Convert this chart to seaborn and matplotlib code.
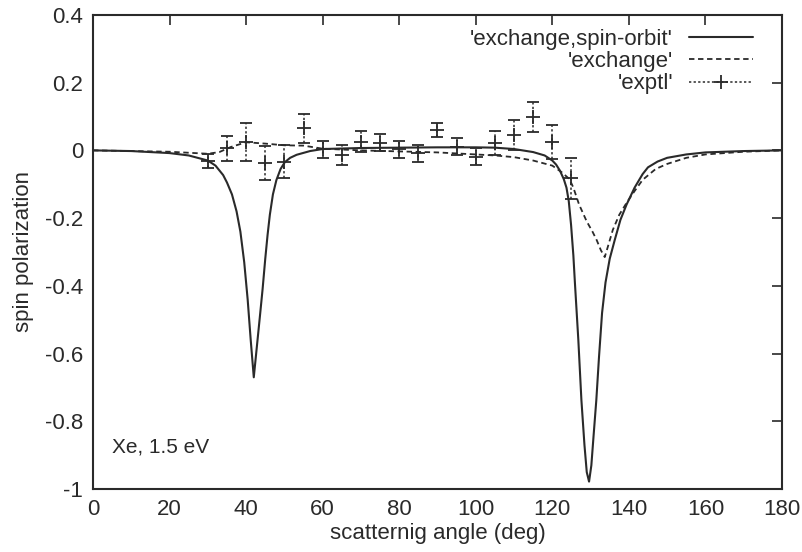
import matplotlib
matplotlib.use("Agg")
import matplotlib.pyplot as plt
from matplotlib.lines import Line2D
import pandas as pd
import seaborn as sns

""" Spin polarization of Xe at 1.5 eV vs scattering angle """

# curve: exchange + spin-orbit
so_angle = [0, 10, 20, 25, 30, 32, 34, 35, 36.3, 37.5, 38.5, 39.5, 40.4, 41.2,
            42.0, 42.8, 43.6, 44.3, 45.0, 45.6, 46.2, 47.0, 47.9, 49.0, 50.1,
            51.5, 53.2, 56.7, 60, 70, 80, 90, 100, 105, 110, 115, 118, 120,
            121, 122, 123, 123.7, 124.3, 124.9, 125.5, 125.9, 126.8, 127.6,
            128.4, 129.0, 129.6, 130.2, 130.8, 131.5, 132.2, 133.0, 133.9,
            135.0, 136.3, 137.8, 139.4, 141.5, 143.6, 145, 147.5, 150, 155,
            160, 170, 180]
so_pol = [0.0, -0.002, -0.008, -0.015, -0.03, -0.045, -0.073, -0.095, -0.13,
          -0.18, -0.24, -0.33, -0.44, -0.56, -0.67, -0.58, -0.49, -0.41,
          -0.32, -0.25, -0.19, -0.13, -0.088, -0.055, -0.035, -0.022, -0.013,
          -0.002, 0.004, 0.007, 0.008, 0.009, 0.009, 0.008, 0.004, -0.005,
          -0.015, -0.03, -0.042, -0.06, -0.085, -0.11, -0.15, -0.22, -0.31,
          -0.39, -0.56, -0.737, -0.87, -0.95, -0.978, -0.93, -0.84, -0.737,
          -0.61, -0.48, -0.39, -0.32, -0.265, -0.205, -0.16, -0.11, -0.07,
          -0.05, -0.033, -0.022, -0.012, -0.006, -0.002, 0.0]

# curve: exchange only
ex_angle = [0, 20, 30, 33, 36, 40, 45, 50, 55, 60, 70, 80, 90, 100, 105, 110,
            115, 120, 122.5, 124.5, 125.5, 127, 128, 129, 130.5, 131.6, 132.7,
            133.7, 134.5, 135.8, 137.5, 139.4, 141.5, 143.6, 147, 150, 155,
            160, 170, 180]
ex_pol = [0.0, -0.004, -0.01, -0.005, 0.01, 0.024, 0.02, 0.015, 0.014, 0.005,
          0.0, -0.003, -0.006, -0.012, -0.015, -0.02, -0.03, -0.045, -0.065,
          -0.085, -0.11, -0.16, -0.185, -0.21, -0.24, -0.265, -0.295, -0.315,
          -0.285, -0.235, -0.19, -0.155, -0.12, -0.087, -0.055, -0.04, -0.022,
          -0.012, -0.004, 0.0]

# experiment
exp_angle = [30, 35, 40, 45, 50, 55, 60, 65, 70, 75, 80, 85, 90, 95, 100, 105,
             110, 115, 120, 125]
exp_pol = [-0.031, 0.006, 0.026, -0.038, -0.033, 0.065, 0.003, -0.014, 0.026,
           0.023, 0.003, -0.009, 0.06, 0.011, -0.019, 0.021, 0.045, 0.098,
           0.026, -0.083]
exp_err = [0.02, 0.036, 0.056, 0.05, 0.05, 0.043, 0.025, 0.03, 0.03, 0.025,
           0.025, 0.025, 0.02, 0.025, 0.025, 0.035, 0.045, 0.045, 0.05, 0.06]

x_ticks = [0, 20, 40, 60, 80, 100, 120, 140, 160, 180]
y_ticks = [-1, -0.8, -0.6, -0.4, -0.2, 0, 0.2, 0.4]
y_tick_labels = ["-1", "-0.8", "-0.6", "-0.4", "-0.2", "0", "0.2", "0.4"]

INK = "#2a2a2a"


def plot_data() -> None:
    sns.set_theme(style="white")
    plt.rcParams["font.family"] = ["Liberation Sans", "DejaVu Sans"]
    plt.rcParams["text.color"] = INK

    fig, ax = plt.subplots(figsize=(8.02, 5.52), dpi=100)
    fig.subplots_adjust(left=0.116, right=0.975, top=0.973, bottom=0.114)

    df_so = pd.DataFrame({"angle": so_angle, "pol": so_pol})
    df_ex = pd.DataFrame({"angle": ex_angle, "pol": ex_pol})
    sns.lineplot(data=df_so, x="angle", y="pol", ax=ax, color=INK, lw=1.5)
    sns.lineplot(data=df_ex, x="angle", y="pol", ax=ax, color=INK, lw=1.3,
                 linestyle=(0, (3, 2)))

    eb = ax.errorbar(exp_angle, exp_pol, yerr=exp_err, fmt="+", color=INK,
                     ms=10, mew=1.3, elinewidth=1.1, capsize=4, capthick=1.1)
    eb[-1][0].set_linestyle((0, (1.5, 1.5)))

    ax.text(5, -0.875, "Xe, 1.5 eV", fontsize=15, va="center", color=INK)

    ax.set_xlim(0, 180)
    ax.set_ylim(-1, 0.4)
    ax.set_xticks(x_ticks)
    ax.set_yticks(y_ticks)
    ax.set_yticklabels(y_tick_labels)
    ax.set_xlabel("scatternig angle (deg)", fontsize=16, color=INK, labelpad=2)
    ax.set_ylabel("spin polarization", fontsize=16, color=INK, labelpad=8)
    ax.tick_params(direction="in", length=7, width=1.2, top=True, right=True,
                   labelsize=16, colors=INK, pad=7)
    for sp in ax.spines.values():
        sp.set_color(INK)
        sp.set_linewidth(1.5)

    handles = [
        Line2D([], [], color=INK, lw=1.5),
        Line2D([], [], color=INK, lw=1.3, linestyle=(0, (3, 2))),
        Line2D([], [], color=INK, lw=1.1, linestyle=(0, (1.5, 1.5)),
               marker="+", ms=10, mew=1.3),
    ]
    labels = ["'exchange,spin-orbit'", "'exchange'", "'exptl'"]
    ax.legend(handles, labels, loc="upper right", frameon=False,
              bbox_to_anchor=(0.958, 0.97), borderaxespad=0, borderpad=0,
              markerfirst=False, fontsize=16, handlelength=2.9,
              labelspacing=0.05, handletextpad=0.7)

    fig.savefig("out.png", dpi=100, facecolor="white")


if __name__ == "__main__":
    plot_data()
